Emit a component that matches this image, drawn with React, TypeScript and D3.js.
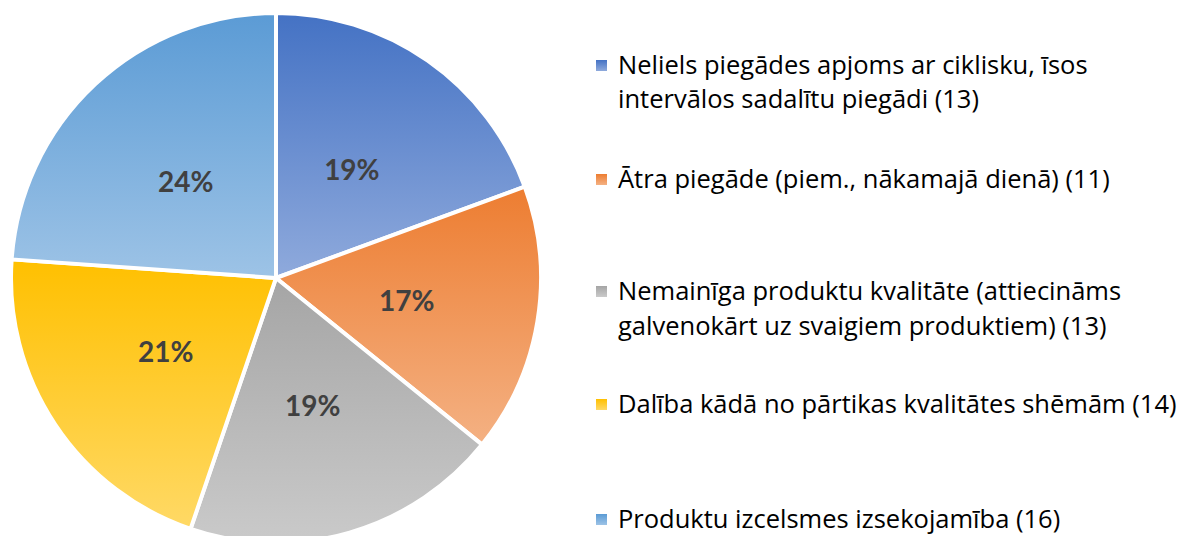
import React from "react";
import * as d3 from "d3";

const categories: string[][] = [
  ["Neliels piegādes apjoms ar ciklisku, īsos", "intervālos sadalītu piegādi (13)"],
  ["Ātra piegāde (piem., nākamajā dienā) (11)"],
  ["Nemainīga produktu kvalitāte (attiecināms", "galvenokārt uz svaigiem produktiem) (13)"],
  ["Dalība kādā no pārtikas kvalitātes shēmām (14)"],
  ["Produktu izcelsmes izsekojamība (16)"],
];
const values: number[] = [13, 11, 13, 14, 16];
const percentLabels: string[] = ["19%", "17%", "19%", "21%", "24%"];
const topColors: string[] = ["#4472C4", "#ED7D31", "#A5A5A5", "#FFC000", "#5B9BD5"];
const bottomColors: string[] = ["#8FAADC", "#F4B183", "#CACACA", "#FFD966", "#9DC3E6"];
const legendBaselines: number[][] = [[74, 108], [188], [300, 335], [413], [528]];

const W = 1186;
const H = 536;
const cx = 276;
const cy = 278;
const R = 265;

export default function App() {
  const pie = d3.pie<number>().sort(null).value((d) => d);
  const arcs = pie(values);
  const arc = d3.arc<d3.PieArcDatum<number>>().innerRadius(0).outerRadius(R);
  const labelFont = "Lato, 'Noto Sans', sans-serif";
  const legendFont = "'Open Sans', 'Noto Sans', sans-serif";

  return (
    <svg
      width={W}
      height={H}
      style={{ position: "absolute", left: 0, top: 0, background: "#fff" }}
    >
      <defs>
        {topColors.map((c, i) => (
          <linearGradient key={i} id={`g${i}`} x1="0" y1="0" x2="0" y2="1">
            <stop offset="0" stopColor={c} />
            <stop offset="1" stopColor={bottomColors[i]} />
          </linearGradient>
        ))}
      </defs>
      <g transform={`translate(${cx},${cy})`}>
        {arcs.map((a, i) => (
          <path
            key={i}
            d={arc(a) || ""}
            fill={`url(#g${i})`}
            stroke="#fff"
            strokeWidth={4}
            strokeLinejoin="round"
          />
        ))}
        {arcs.map((a, i) => {
          const [x, y] = arc.centroid(a);
          return (
            <text
              key={i}
              x={x}
              y={y + 11}
              textAnchor="middle"
              fontFamily={labelFont}
              fontWeight="bold"
              fontSize={28}
              fill="#404040"
            >
              {percentLabels[i]}
            </text>
          );
        })}
      </g>
      <g>
        {categories.map((lines, i) => (
          <g key={i}>
            <rect
              x={596}
              y={legendBaselines[i][0] - 14}
              width={11}
              height={11}
              fill={`url(#g${i})`}
            />
            {lines.map((ln, j) => (
              <text
                key={j}
                x={618}
                y={legendBaselines[i][j]}
                fontFamily={legendFont}
                fontSize={25.5}
                fill="#000"
              >
                {ln}
              </text>
            ))}
          </g>
        ))}
      </g>
    </svg>
  );
}
